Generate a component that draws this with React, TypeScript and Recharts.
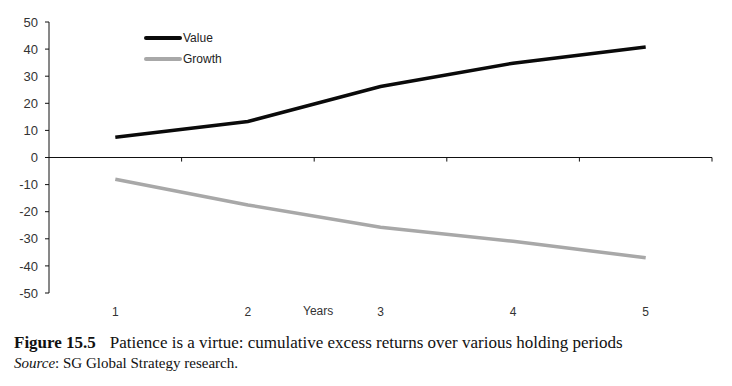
import React from "react";
import { ComposedChart, Line, XAxis, YAxis, ReferenceLine } from "recharts";

const years = [1, 2, 3, 4, 5];
const valueSeries = [7.5, 13.3, 26.2, 34.8, 40.8];
const growthSeries = [-8.0, -17.5, -25.7, -30.9, -37.0];
const yTicks = [-50, -40, -30, -20, -10, 0, 10, 20, 30, 40, 50];
const bandEdges = [1.5, 2.5, 3.5, 4.5, 5.5];
const tickMarkDepth = -1.5;

const data = years.map((y, i) => ({ year: y, Value: valueSeries[i], Growth: growthSeries[i] }));

const FONT = "'Liberation Sans', Arial, sans-serif";

const legendItems = [
  { name: "Value", color: "#0a0a0a" },
  { name: "Growth", color: "#a8a8a8" },
];

export default function App() {
  return (
    <div style={{ position: "absolute", left: 0, top: 0, width: 732, height: 386, background: "#fff" }}>
      <ComposedChart width={732} height={320} data={data} margin={{ top: 22, right: 20, bottom: 0, left: 0 }}>
        <XAxis
          dataKey="year"
          type="number"
          domain={[0.5, 5.5]}
          ticks={years}
          axisLine={false}
          tickLine={false}
          tickSize={6}
          tickMargin={8}
          height={27}
          tick={{ fontFamily: FONT, fontSize: 12, fill: "#333" }}
        />
        <YAxis
          type="number"
          domain={[-50, 50]}
          ticks={yTicks}
          width={49}
          axisLine={{ stroke: "#111" }}
          tickLine={{ stroke: "#111" }}
          tickSize={4}
          tickMargin={7}
          interval={0}
          tick={{ fontFamily: FONT, fontSize: 13, fill: "#333" }}
        />
        <ReferenceLine y={0} stroke="#111" strokeWidth={1} />
        {bandEdges.map((b) => (
          <ReferenceLine
            key={b}
            segment={[{ x: b, y: 0 }, { x: b, y: tickMarkDepth }]}
            stroke="#111"
            strokeWidth={1}
          />
        ))}
        <Line dataKey="Value" stroke="#0a0a0a" strokeWidth={3.5} dot={false} isAnimationActive={false} />
        <Line dataKey="Growth" stroke="#a8a8a8" strokeWidth={3.5} dot={false} isAnimationActive={false} />
      </ComposedChart>
      <div style={{ position: "absolute", left: 144, top: 27, fontFamily: FONT, fontSize: 12, color: "#222" }}>
        {legendItems.map((e) => (
          <div key={e.name} style={{ display: "flex", alignItems: "center", height: 21 }}>
            <div style={{ width: 38, height: 4, background: e.color, borderRadius: 2 }} />
            <span style={{ marginLeft: 1 }}>{e.name}</span>
          </div>
        ))}
      </div>
      <div
        style={{
          position: "absolute",
          left: 303,
          top: 304,
          fontFamily: FONT,
          fontSize: 12,
          color: "#333",
        }}
      >
        Years
      </div>
      <div
        style={{
          position: "absolute",
          left: 14,
          top: 333,
          fontFamily: "'Liberation Serif', 'Times New Roman', serif",
          fontSize: 17,
          color: "#111",
          whiteSpace: "nowrap",
          lineHeight: "20px",
        }}
      >
        <div>
          <b>Figure 15.5</b>
          <span style={{ marginLeft: 14 }}>Patience is a virtue: cumulative excess returns over various holding periods</span>
        </div>
        <div style={{ fontSize: 15 }}>
          <i>Source</i>: SG Global Strategy research.
        </div>
      </div>
    </div>
  );
}
